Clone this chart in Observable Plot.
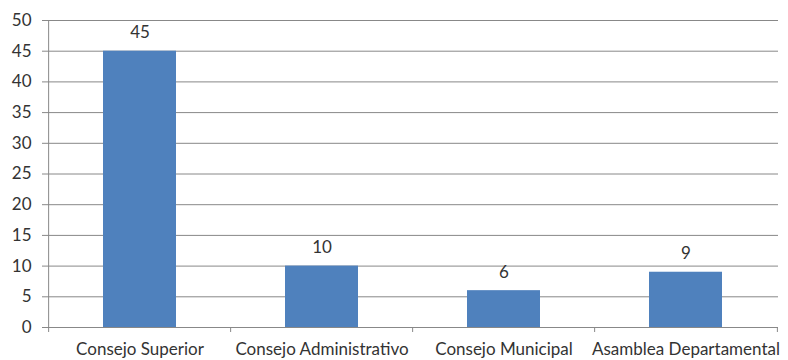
<!DOCTYPE html>
<html>
<head>
<meta charset="utf-8">
<script src="https://cdn.jsdelivr.net/npm/d3@7"></script>
<script src="https://cdn.jsdelivr.net/npm/@observablehq/plot@0.6"></script>
<style>
  html, body { margin: 0; padding: 0; background: #fff; }
  #chart svg { display: block; }
</style>
</head>
<body>
<div id="chart"></div>
<script>
const categories = ["Consejo Superior", "Consejo Administrativo", "Consejo Municipal", "Asamblea Departamental"];
const values = [45, 10, 6, 9];
const yTicks = [0, 5, 10, 15, 20, 25, 30, 35, 40, 45, 50];

const data = categories.map((c, i) => ({category: c, value: values[i]}));
const W = 788, H = 360, mL = 47, mR = 10;
const step = (W - mL - mR) / categories.length;

const chart = Plot.plot({
  width: W,
  height: H,
  marginLeft: mL,
  marginRight: mR,
  marginTop: 20,
  marginBottom: 33,
  style: {fontFamily: "Lato, sans-serif", fontSize: "17px", color: "#333", background: "#fff"},
  x: {domain: categories, paddingInner: 0.6, paddingOuter: 0.3, label: null},
  y: {domain: [0, 50], label: null},
  marks: [
    Plot.ruleY(yTicks, {stroke: "#888", strokeWidth: 1, insetLeft: -5}),
    Plot.axisY({ticks: yTicks, tickSize: 0, tickPadding: 16, label: null, fontSize: 17, fill: "#333"}),
    Plot.ruleX([categories[0]], {y1: 0, y2: 50, dx: -step / 2, stroke: "#888"}),
    Plot.barY(data, {x: "category", y: "value", fill: "#4F81BD"}),
    Plot.text(data, {x: "category", y: "value", text: d => String(d.value), lineAnchor: "bottom", dy: -13, fontSize: 17, fill: "#333"}),
    Plot.axisX({tickSize: 0, tickPadding: 15, label: null, fontSize: 17, fill: "#333"}),
    Plot.axisX({tickSize: 5, dx: -step / 2, text: null, stroke: "#888", label: null}),
    Plot.axisX({ticks: [categories[categories.length - 1]], tickSize: 5, dx: step / 2, text: null, stroke: "#888", label: null})
  ]
});
document.getElementById("chart").append(chart);
</script>
</body>
</html>
